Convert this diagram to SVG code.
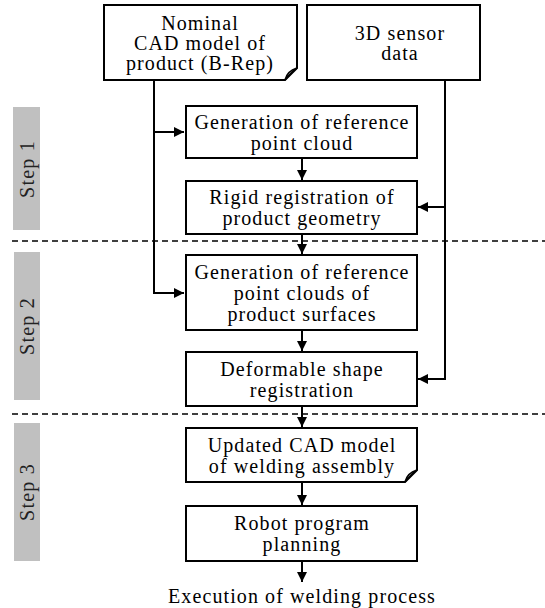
<svg xmlns="http://www.w3.org/2000/svg" width="545" height="608" viewBox="0 0 545 608">
<defs>
<marker id="ah" viewBox="0 0 10 10" refX="10" refY="5" markerWidth="10" markerHeight="10" markerUnits="userSpaceOnUse" orient="auto">
<path d="M0,0 L10,5 L0,10 Z" fill="#000"/>
</marker>
<style>
.box{fill:#fff;stroke:#000;stroke-width:2}
.t{font-family:"Liberation Serif","DejaVu Serif",serif;font-size:20px;letter-spacing:1.1px;text-anchor:middle;fill:#000}
.st{font-family:"Liberation Serif","DejaVu Serif",serif;font-size:20px;letter-spacing:1.2px;text-anchor:middle;fill:#222}
.bar{fill:#c0c0c0}
.c{fill:none;stroke:#000;stroke-width:2}
.d{fill:none;stroke:#000;stroke-width:1.5;stroke-dasharray:6 4}
</style>
</defs>
<g id="steps">
<rect class="bar" x="13" y="107" width="27" height="123"/>
<text class="st" transform="translate(34,169) rotate(-90)">Step 1</text>
<rect class="bar" x="14" y="252" width="26" height="148"/>
<text class="st" transform="translate(34,326) rotate(-90)">Step 2</text>
<rect class="bar" x="14" y="423" width="26" height="138"/>
<text class="st" transform="translate(34,492) rotate(-90)">Step 3</text>
</g>
<g id="separators">
<line class="d" x1="12" y1="241" x2="545" y2="241"/>
<line class="d" x1="12" y1="414" x2="545" y2="414"/>
</g>
<g id="connectors">
<path class="c" d="M154,80 V293 H184" marker-end="url(#ah)"/>
<path class="c" d="M154,132 H184" marker-end="url(#ah)"/>
<path class="c" d="M445,80 V379 H418" marker-end="url(#ah)"/>
<path class="c" d="M445,207 H418" marker-end="url(#ah)"/>
<path class="c" d="M302,158 V180" marker-end="url(#ah)"/>
<path class="c" d="M302,234 V254" marker-end="url(#ah)"/>
<path class="c" d="M302,330 V351" marker-end="url(#ah)"/>
<path class="c" d="M302,406 V427" marker-end="url(#ah)"/>
<path class="c" d="M302,482 V505" marker-end="url(#ah)"/>
<path class="c" d="M302,561 V582" marker-end="url(#ah)"/>
</g>
<g id="n-cad">
<path class="box" d="M104,5 H297 V68 L285,80 H104 Z"/>
<path class="c" style="stroke-width:1.5" d="M285,80 Q287,71 297,68 Q290,73 285,80 Z"/>
<text class="t" x="200" y="30">Nominal</text>
<text class="t" x="200" y="50">CAD model of</text>
<text class="t" x="200" y="70">product (B-Rep)</text>
</g>
<g id="n-sensor">
<rect class="box" x="307" y="5" width="173" height="75"/>
<text class="t" x="400" y="40">3D sensor</text>
<text class="t" x="400" y="60">data</text>
</g>
<g id="n-gen1">
<rect class="box" x="186" y="106" width="231" height="52"/>
<text class="t" x="302" y="129">Generation of reference</text>
<text class="t" x="302" y="150">point cloud</text>
</g>
<g id="n-rigid">
<rect class="box" x="186" y="181" width="231" height="53"/>
<text class="t" x="302" y="204">Rigid registration of</text>
<text class="t" x="302" y="225">product geometry</text>
</g>
<g id="n-gen2">
<rect class="box" x="186" y="255" width="231" height="75"/>
<text class="t" x="302" y="279">Generation of reference</text>
<text class="t" x="302" y="300">point clouds of</text>
<text class="t" x="302" y="321">product surfaces</text>
</g>
<g id="n-deform">
<rect class="box" x="186" y="352" width="231" height="54"/>
<text class="t" x="302" y="376">Deformable shape</text>
<text class="t" x="302" y="397">registration</text>
</g>
<g id="n-updated">
<path class="box" d="M186,428 H417 V470 L405,482 H186 Z"/>
<path class="c" style="stroke-width:1.5" d="M405,482 Q407,473 417,470 Q410,475 405,482 Z"/>
<text class="t" x="302" y="452">Updated CAD model</text>
<text class="t" x="302" y="473">of welding assembly</text>
</g>
<g id="n-robot">
<rect class="box" x="186" y="506" width="231" height="55"/>
<text class="t" x="302" y="530">Robot program</text>
<text class="t" x="302" y="551">planning</text>
</g>
<g id="n-exec">
<text class="t" x="302" y="603">Execution of welding process</text>
</g>
</svg>
